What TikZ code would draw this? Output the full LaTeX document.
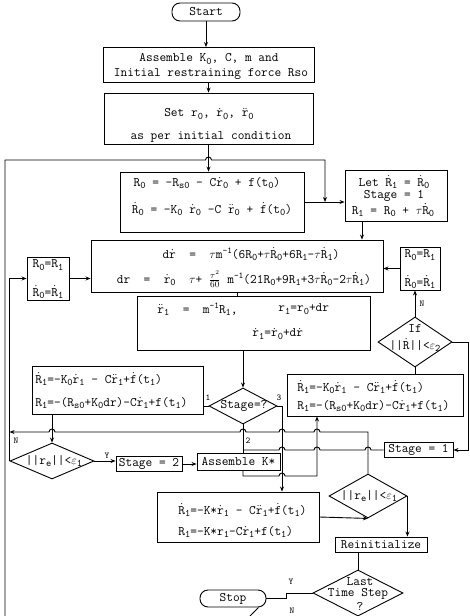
\documentclass[tikz,border=0pt]{standalone}
\usetikzlibrary{shapes.geometric,arrows.meta}
\newcommand\dotx[1]{\ensuremath{\dot{\mbox{#1}}}}
\newcommand\ddotx[1]{\ensuremath{\ddot{\mbox{#1}}}}
\newcommand\sbx[1]{\raisebox{-0.45ex}{\fontsize{10}{10}\selectfont #1}}
\newcommand\spx[1]{\raisebox{0.9ex}{\fontsize{9}{9}\selectfont #1}}
\newcommand\tauv{\ensuremath{\tau}}
\newcommand\epsv{\ensuremath{\varepsilon}}
\begin{document}
\begin{tikzpicture}[x=1pt,y=-1pt, line width=0.9pt,
  box/.style={draw, rectangle, inner sep=0pt, font=\fontsize{13}{15}\selectfont\ttfamily},
  dia/.style={draw, diamond, inner sep=0pt},
  txt/.style={inner sep=0pt, font=\fontsize{13}{15}\selectfont\ttfamily},
  lbl/.style={inner sep=0pt, font=\fontsize{9}{9}\selectfont\ttfamily},
  arr/.style={-{Stealth[length=5pt,width=4pt]}}]
\useasboundingbox (0,0) rectangle (470,616);

% ---------- nodes ----------
\node[box, minimum width=68pt, minimum height=18pt, rounded corners=8pt] (start) at (206,12) {Start};

\node[box, minimum width=211pt, minimum height=35pt] (asm) at (208.5,65) {};
\node[txt] at (209,59) {Assemble K\sbx{0}, C, m and};
\node[txt] at (211,74) {Initial restraining force Rso};

\node[box, minimum width=209pt, minimum height=51pt] (setb) at (208.5,118.5) {};
\node[txt] at (209,114) {Set r\sbx{0}, \dotx{r}\sbx{0}, \ddotx{r}\sbx{0}};
\node[txt] at (211,137) {as per initial condition};

\node[box, minimum width=184pt, minimum height=60pt] (r0b) at (212,202) {};
\node[txt] at (207,183) {R\sbx{0} = -R\sbx{s0} - C\dotx{r}\sbx{0} + f(t\sbx{0})};
\node[txt] at (212,209) {\dotx{R}\sbx{0} = -K\sbx{0} \dotx{r}\sbx{0} -C \ddotx{r}\sbx{0} + \dotx{f}(t\sbx{0})};

\node[box, minimum width=102pt, minimum height=51pt] (letb) at (396,195.5) {};
\node[txt] at (394,182) {Let \dotx{R}\sbx{1} = \dotx{R}\sbx{0}};
\node[txt] at (394,196) {Stage = 1};
\node[txt] at (393,210) {R\sbx{1} = R\sbx{0} + \tauv\dotx{R}\sbx{0}};

\node[box, minimum width=292pt, minimum height=52pt] (drb) at (237,266) {};
\node[txt] at (251,254) {d\dotx{r} ~=~ \tauv m\spx{-1}(6R\sbx{0}+\tauv\dotx{R}\sbx{0}+6R\sbx{1}-\tauv\dotx{R}\sbx{1})};
\node[txt] at (244,279) {dr ~=~ \dotx{r}\sbx{0} ~\tauv+ \ensuremath{\frac{\tau^2}{60}} m\spx{-1}(21R\sbx{0}+9R\sbx{1}+3\tauv\dotx{R}\sbx{0}-2\tauv\dotx{R}\sbx{1})};

\node[box, minimum width=42pt, minimum height=43pt] (lsm) at (48,278.5) {};
\node[txt] at (48,265) {R\sbx{0}=R\sbx{1}};
\node[txt] at (48,292) {\dotx{R}\sbx{0}=\dotx{R}\sbx{1}};

\node[box, minimum width=40pt, minimum height=43pt] (rsm) at (420,268.5) {};
\node[txt] at (420,255) {R\sbx{0}=R\sbx{1}};
\node[txt] at (420,282) {\dotx{R}\sbx{0}=\dotx{R}\sbx{1}};

\node[box, minimum width=233pt, minimum height=54pt] (r1b) at (253.5,323) {};
\node[txt, anchor=west] at (157,309) {\ddotx{r}\sbx{1} ~=~ m\spx{-1}R\sbx{1},};
\node[txt, anchor=west] at (278,309) {r\sbx{1}=r\sbx{0}+dr};
\node[txt, anchor=west] at (252,334) {\dotx{r}\sbx{1}=\dotx{r}\sbx{0}+d\dotx{r}};

\node[dia, minimum width=68pt, minimum height=36pt] (stg) at (243,406) {};
\node[txt] at (244,406) {Stage=?};

\node[box, minimum width=171pt, minimum height=48pt] (lr1) at (117.5,390) {};
\node[txt, anchor=west] at (35,379) {\dotx{R}\sbx{1}=-K\sbx{0}\dotx{r}\sbx{1} - C\ddotx{r}\sbx{1}+\dotx{f}(t\sbx{1})};
\node[txt, anchor=west] at (35,403) {R\sbx{1}=-(R\sbx{s0}+K\sbx{0}dr)-C\dotx{r}\sbx{1}+f(t\sbx{1})};

\node[box, minimum width=176pt, minimum height=42pt] (rr1) at (375,395) {};
\node[txt, anchor=west] at (297,387) {\dotx{R}\sbx{1}=-K\sbx{0}\dotx{r}\sbx{1} - C\ddotx{r}\sbx{1}+\dotx{f}(t\sbx{1})};
\node[txt, anchor=west] at (297,406) {R\sbx{1}=-(R\sbx{s0}+K\sbx{0}dr)-C\dotx{r}\sbx{1}+f(t\sbx{1})};

\node[dia, minimum width=74pt, minimum height=50pt] (ifd) at (415,342) {};
\node[txt] at (415,328) {If};
\node[txt] at (415,345) {||\dotx{R}||<\epsv\sbx{2}};

\node[dia, minimum width=84pt, minimum height=36pt] (ld) at (52,461) {};
\node[txt] at (54,461) {||r\sbx{e}||<\epsv\sbx{1}};

\node[box, minimum width=66pt, minimum height=15pt] (stg2) at (149,464) {Stage = 2};
\node[box, minimum width=83pt, minimum height=17pt] (asmk) at (238.5,461.5) {Assemble K*};
\node[box, minimum width=69pt, minimum height=15pt] (stg1) at (418.5,450) {Stage = 1};

\node[box, minimum width=162pt, minimum height=50pt] (kb) at (238,517) {};
\node[txt, anchor=west] at (178,510) {\dotx{R}\sbx{1}=-K*\dotx{r}\sbx{1} - C\ddotx{r}\sbx{1}+\dotx{f}(t\sbx{1})};
\node[txt, anchor=west] at (178,532) {R\sbx{1}=-K*r\sbx{1}-C\dotx{r}\sbx{1}+f(t\sbx{1})};

\node[dia, minimum width=78pt, minimum height=44pt] (rd) at (368,496) {};
\node[txt] at (369,496) {||r\sbx{e}||<\epsv\sbx{1}};

\node[box, minimum width=92pt, minimum height=15pt] (reinit) at (381,544.5) {Reinitialize};

\node[dia, minimum width=90pt, minimum height=46pt] (ltd) at (358,593) {};
\node[txt] at (360,582) {Last};
\node[txt] at (358,594) {Time Step};
\node[txt] at (360,606) {?};

\node[box, minimum width=66pt, minimum height=17pt, rounded corners=8pt] (stop) at (233,598.5) {Stop};

% ---------- helper coordinates ----------
\coordinate (bl) at (5,616);
\coordinate (j1) at (325,202);
\coordinate (y432) at (0,432);
\coordinate (c282) at (282,406);
\coordinate (c317) at (317,476);

% ---------- connectors ----------
\draw[arr] (start.south) -- (start.south |- asm.north);
\draw[arr] (asm.south) -- (setb.north);
\draw[arr] (setb.south) -- (setb.south |- r0b.north);
\draw[arr] (bl) -- (5,160) -- (205.5,160) arc[start angle=180,end angle=0,radius=3pt] -- (325,160) -- (j1);
\draw[arr] (r0b.east) -- (letb.west |- r0b.east);
\draw[arr] ([xshift=-34pt]letb.south) -- ([xshift=-34pt]letb.south |- drb.north);
\draw[arr] (lsm.east) -- (lsm.east -| drb.west);
\draw[arr] (rsm.west) -- (rsm.west -| drb.east);
\draw (drb.south) -- (drb.south |- r1b.north);
\draw[arr] (r1b.south -| stg.north) -- (stg.north);

\draw (stg.west) -- (stg.west -| lr1.east);
\node[lbl] at (208,398) {1};
\draw[arr] (lr1.south -| ld.north) -- (ld.north);
\draw[arr] (ld.east) -- (ld.east -| stg2.west);
\node[lbl] at (107,456) {Y};
\draw[arr] (stg2.east) -- (stg2.east -| asmk.west);
\draw[arr] (ld.west) -- (ld.west |- lsm.west) -- (lsm.west);
\node[lbl] at (16,441) {N};

% line at y=432 (to the left loop)
\draw[arr] (rd.north) -- (368,432) -- (320,432) arc[start angle=0,end angle=180,radius=3pt]
  -- (285,432) arc[start angle=0,end angle=180,radius=3pt]
  -- (246,432) arc[start angle=0,end angle=180,radius=3pt]
  -- (55,432) arc[start angle=0,end angle=180,radius=3pt]
  -- (ld.west |- y432);

% line at y=450 from Stage = 1
\draw (stg1.west) -- (371,450) arc[start angle=0,end angle=180,radius=3pt]
  -- (320,450) arc[start angle=0,end angle=180,radius=3pt]
  -- (285,450) arc[start angle=0,end angle=180,radius=3pt]
  -- (stg.south |- stg1.west);

\draw (stg.south) -- (stg.south |- asmk.north);
\node[lbl] at (248,441) {2};

% line at y=476 to right R1 box
\draw[arr] (stg.south |- asmk.south) -- (243,476) -- (279,476) arc[start angle=180,end angle=0,radius=3pt]
  -- (c317) -- (c317 |- rr1.south);

\draw[arr] (stg.east) -- (c282) -- (c282 |- kb.north);
\node[lbl] at (279,398) {3};

\draw[arr] (kb.east) -- (rd.south);
\draw[arr] (rd.east) -- (rd.east |- reinit.north);
\draw (reinit.south -| ltd.north) -- (ltd.north);
\draw (ltd.west) -- ++(-26,0) |- (stop.east);
\node[lbl] at (291,582) {Y};
\node[lbl] at (292,611) {N};
\draw ([xshift=-8pt]stop.south east) -- ++(-9,9);

\draw[arr] (ifd.north) -- (ifd.north |- rsm.south);
\node[lbl] at (422,304) {N};
\draw (ifd.south) -- (ifd.south |- rr1.north);
\draw[arr] (ifd.east) -- (468,342) |- (stg1.east);
\end{tikzpicture}
\end{document}
